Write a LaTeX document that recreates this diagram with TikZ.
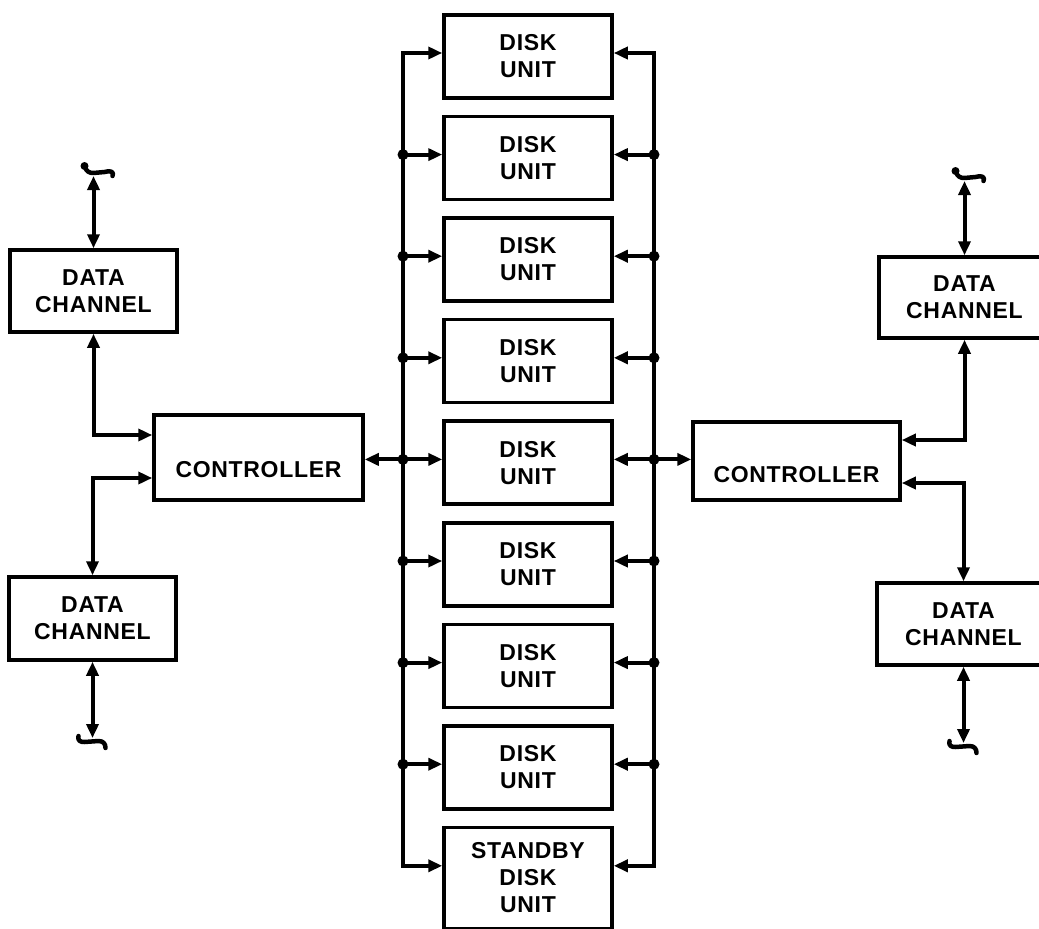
\documentclass[tikz,border=0pt]{standalone}
\usepackage{fontspec}
\setmainfont{Liberation Sans}
\usetikzlibrary{arrows.meta,calc}
\begin{document}
\begin{tikzpicture}[x=1pt,y=-1pt,
  line width=4pt,
  lettering/.style={font=\fontsize{23}{27}\selectfont\bfseries\addfontfeatures{LetterSpace=3}},
  box/.style={draw,line width=3.5pt,rectangle,inner sep=0pt,align=center,lettering},
  lbl/.style={align=center,inner sep=0pt,lettering},
  ahead/.tip={Triangle[length=14pt,width=12pt]},
  conn/.style={line width=4pt,ahead-ahead},
  into/.style={line width=4pt,-ahead},
  jdot/.style={circle,fill,inner sep=0pt,minimum size=11pt},
  term/.style={line width=4.5pt,line cap=round,line join=round},
  knob/.style={circle,fill,inner sep=0pt,minimum size=8pt}
]
\clip (0,0) rectangle (1039,929);

% disk units
\foreach \i/\t in {1/13,2/114.6,3/216.2,4/317.8,5/419.4,6/521,7/622.6,8/724.2}{
  \node[box,anchor=north,minimum width=168pt,minimum height=83pt] (d\i) at (528,\t) {DISK\\UNIT};
}
\node[box,anchor=north,minimum width=168pt,minimum height=101pt] (d9) at (528,825.8) {STANDBY\\DISK\\UNIT};

% bus coordinates
\foreach \i/\y in {1/53,2/154.6,3/256.2,4/357.8,5/459.4,6/561,7/662.6,8/764.2,9/865.8}{
  \coordinate (lb\i) at (403,\y);
  \coordinate (rb\i) at (654,\y);
}
\draw[line cap=rect] (lb1) -- (lb9);
\draw[line cap=rect] (rb1) -- (rb9);
\foreach \i in {1,...,9}{
  \draw[into] (lb\i) -- (lb\i -| d\i.west);
  \draw[into] (rb\i) -- (rb\i -| d\i.east);
}
\foreach \i in {2,...,8}{
  \node[jdot] (ld\i) at (lb\i) {};
  \node[jdot] (rd\i) at (rb\i) {};
}

% controllers
\node[box,minimum width=209pt,minimum height=85pt] (cl) at (258.5,457.5) {};
\node[lbl] (clt) at (258.5,470) {CONTROLLER};
\node[box,minimum width=207pt,minimum height=78pt] (cr) at (796.5,461) {};
\node[lbl] (crt) at (796.5,475) {CONTROLLER};
\draw[into] (lb5) -- (lb5 -| cl.east);
\draw[into] (rb5) -- (rb5 -| cr.west);

% data channels
\node[box,minimum width=167pt,minimum height=82pt] (dcl1) at (93.5,291) {DATA\\CHANNEL};
\node[box,minimum width=167pt,minimum height=83pt] (dcl2) at (92.5,618.5) {DATA\\CHANNEL};
\node[box,minimum width=171pt,minimum height=81pt] (dcr1) at (964.5,297.5) {DATA\\CHANNEL};
\node[box,minimum width=173pt,minimum height=82pt] (dcr2) at (963.5,624) {DATA\\CHANNEL};

% controller <-> data channel
\coordinate (cl1) at ($(cl.west)+(0,-22.5)$);
\coordinate (cl2) at ($(cl.west)+(0,20.5)$);
\coordinate (cr1) at ($(cr.east)+(0,-21)$);
\coordinate (cr2) at ($(cr.east)+(0,22)$);
\draw[conn] (dcl1.south) |- (cl1);
\draw[conn] (cl2) -| (dcl2.north);
\draw[conn] (dcr1.south) |- (cr1);
\draw[conn] (cr2) -| (dcr2.north);

% terminals
\coordinate (tl1) at (93.5,173);
\coordinate (tl2) at (92.5,741);
\coordinate (tr1) at (964.5,178);
\coordinate (tr2) at (963.5,746);
\draw[conn] (dcl1.north) -- ($(tl1)+(0,3)$);
\draw[conn] (dcl2.south) -- ($(tl2)+(0,-3)$);
\draw[conn] (dcr1.north) -- ($(tr1)+(0,3)$);
\draw[conn] (dcr2.south) -- ($(tr2)+(0,-3)$);
\foreach \T in {tl1,tr1}{
  \draw[term] ($(\T)+(-9,-7)$) .. controls ($(\T)+(-7,-1)$) and ($(\T)+(-4,0)$) .. ($(\T)+(0,0)$) -- ($(\T)+(11,-1)$) .. controls ($(\T)+(17,-3)$) and ($(\T)+(21,-1)$) .. ($(\T)+(19,3)$);
  \node[knob] (k\T) at ($(\T)+(-9,-7)$) {};
}
\foreach \T in {tl2,tr2}{
  \draw[term] ($(\T)+(-14,-5)$) .. controls ($(\T)+(-15,0)$) and ($(\T)+(-12,1)$) .. ($(\T)+(-8,1)$) -- ($(\T)+(6,0)$) .. controls ($(\T)+(11,0)$) and ($(\T)+(13,3)$) .. ($(\T)+(13,7)$);
}
\end{tikzpicture}
\end{document}
